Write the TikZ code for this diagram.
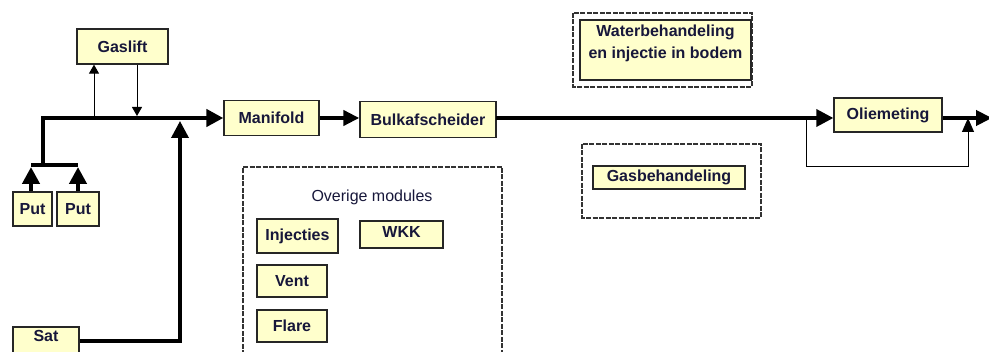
\documentclass[tikz,border=0pt]{standalone}
\usepackage{fontspec}
\setmainfont{Liberation Sans}
\usetikzlibrary{arrows.meta}
\definecolor{boxfill}{HTML}{FFFFCC}
\definecolor{txt}{HTML}{17173A}
\begin{document}
\begin{tikzpicture}[x=1pt,y=-1pt,
  box/.style={draw=black!85,line width=1.3pt,fill=boxfill,text=txt,
    font=\fontsize{16}{22}\selectfont\bfseries,inner sep=0pt,anchor=center},
  dashbox/.style={draw=black!80,line width=1.2pt,dash pattern=on 5pt off 1.5pt},
  thickline/.style={line width=4.5pt,line join=miter},
  medline/.style={line width=3.5pt,line join=miter},
  thinline/.style={line width=1pt},
  bigarrow/.style={-{Triangle[length=17pt,width=17pt]}},
  midarrow/.style={-{Triangle[length=16pt,width=15pt]}},
  smallarrow/.style={-{Triangle[length=9pt,width=10pt]}},
  bypassarrow/.style={-{Triangle[length=14pt,width=12pt]}}]
\useasboundingbox (0,0) rectangle (989,352);

% boxes
\node[box,minimum width=91pt,minimum height=35pt] (gaslift) at (122.5,46.5) {Gaslift};
\node[box,minimum width=39pt,minimum height=34pt] (put1) at (32.5,209) {Put};
\node[box,minimum width=42pt,minimum height=34pt] (put2) at (78,209) {Put};
\node[box,minimum width=66pt,minimum height=34pt,text height=12pt,text depth=16pt] (sat) at (46,344) {Sat};
\node[box,minimum width=95pt,minimum height=35pt] (manifold) at (271.5,118) {Manifold};
\node[box,minimum width=136pt,minimum height=36pt] (bulk) at (428,119.5) {Bulkafscheider};
\node[box,minimum width=108pt,minimum height=34pt] (olie) at (888,115) {Oliemeting};

% Overige modules
\draw[dashbox] (243,375) -- (243,167) -- (502,167) -- (502,375);
\node[text=txt,font=\fontsize{16}{20}\selectfont] (overige) at (372,197) {Overige modules};
\node[box,minimum width=81pt,minimum height=34pt] (inj) at (297.5,236) {Injecties};
\node[box,minimum width=83pt,minimum height=27pt,text depth=6pt] (wkk) at (401.5,234.5) {WKK};
\node[box,minimum width=70pt,minimum height=32pt] (vent) at (292,281) {Vent};
\node[box,minimum width=70pt,minimum height=32pt] (flare) at (292,326) {Flare};

% Waterbehandeling
\draw[dashbox] (573,13) rectangle (752,87);
\node[box,minimum width=171pt,minimum height=60pt] (water) at (665.5,50) {};
\node[text=txt,font=\fontsize{16}{22}\selectfont\bfseries,align=center,anchor=north,inner sep=0pt] (watertxt) at (665.5,24.5) {Waterbehandeling\\en injectie in bodem};

% Gasbehandeling
\draw[dashbox] (582,144) rectangle (761,218);
\node[box,minimum width=152pt,minimum height=23pt] (gas) at (669,177.5) {Gasbehandeling};

% connectors
\coordinate (j) at (43,118);
\coordinate (b) at (43,165);
\coordinate (b1) at (31,165);
\coordinate (b2) at (78,165);
\draw[thickline,bigarrow] (put1.north -| b1) -- ([yshift=-2pt]b1);
\draw[thickline,bigarrow] (put2.north) -- ([yshift=-2pt]b2);
\draw[thickline] (b1) -- (b2);
\draw[thickline,bigarrow] (b) -- (j) -- (manifold.west);

\coordinate (g1) at (94,116);
\coordinate (g2) at (137,116);
\draw[thinline,smallarrow] (g1) -- (g1 |- gaslift.south);
\draw[thinline,smallarrow] (g2 |- gaslift.south) -- (g2);

\coordinate (sc) at (180,341);
\coordinate (st) at (180,121);
\draw[medline,bigarrow] (sat.east |- sc) -- (sc) -- (st);

\draw[thickline,midarrow] (manifold.east) -- (bulk.west |- manifold.east);

\coordinate (m) at (496,118);
\coordinate (bp1) at (806,118);
\coordinate (bp2) at (968,118);
\draw[medline,bigarrow] (m) -- (m -| olie.west);
\draw[thinline,bypassarrow] (bp1) -- (806,167) -- (968,167) -- (bp2);
\coordinate (out) at (992,118);
\draw[thickline,midarrow] (olie.east |- out) -- (out);
\end{tikzpicture}
\end{document}
